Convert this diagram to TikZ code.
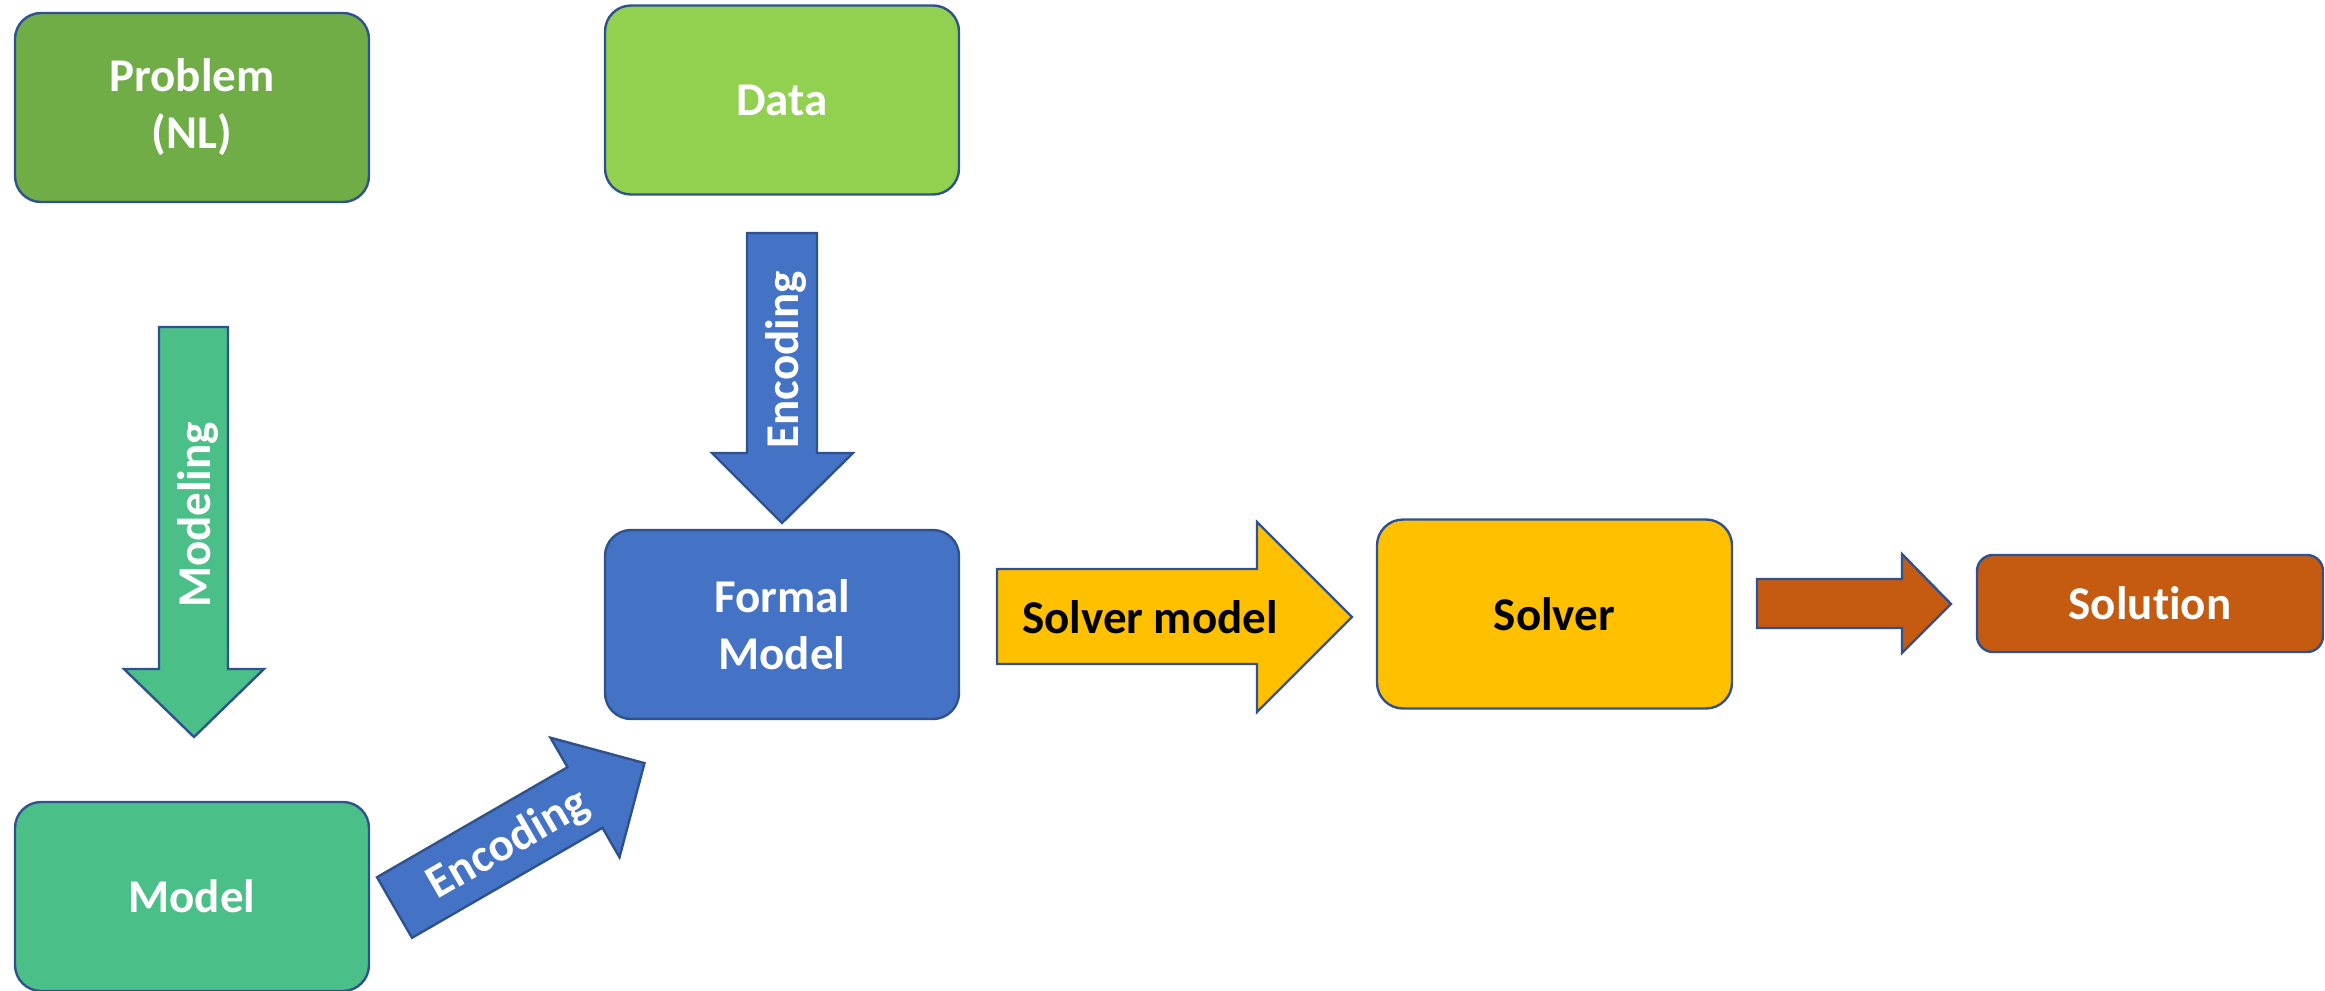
\documentclass[tikz,border=0pt]{standalone}
\usepackage{fontspec}
\setmainfont{Carlito}[Ligatures={NoCommon,NoContextual}]
\definecolor{bordc}{HTML}{2F528F}
\definecolor{cProb}{HTML}{70AD47}
\definecolor{cData}{HTML}{92D050}
\definecolor{cBlue}{HTML}{4472C4}
\definecolor{cModel}{RGB}{74,191,136}
\definecolor{cSolver}{HTML}{FFC000}
\definecolor{cSol}{HTML}{C55A11}
\newcommand{\dgfont}{\fontsize{23.5}{28.5}\selectfont\bfseries}
\begin{document}
\begin{tikzpicture}[x=0.5pt,y=-0.5pt,
  outl/.style={draw=bordc, line width=1.2pt, line join=miter},
  box/.style={outl, rounded corners=13pt, inner sep=0pt, align=center,
    font=\dgfont, text=white, minimum width=177pt, minimum height=94.5pt},
  lbltext/.style={font=\dgfont, text=white, inner sep=0pt, anchor=base}]
\useasboundingbox (0,0) rectangle (2325,991);

% boxes
\node[box, fill=cProb] (prob) at (192,107.5) {Problem\\(NL)};
\node[box, fill=cData] (data) at (782,100) {Data};
\node[box, fill=cBlue] (formal) at (782,624.5) {Formal\\Model};
\node[box, fill=cModel] (model) at (192,896.5) {Model};
\node[box, fill=cSolver, text=black, minimum width=177.5pt] (solver) at (1554.5,614) {Solver};
\node[box, fill=cSol, rounded corners=8pt, minimum width=173pt, minimum height=48.5pt] (solution) at (2150,603.5) {Solution};

% Modeling arrow (Problem -> Model)
\draw[outl, fill=cModel] (159,327) -- (228,327) -- (228,669) -- (264,669) -- (194,737) -- (124,669) -- (159,669) -- cycle;
\node[lbltext, rotate=90] (modlbl) at (210,515) {Modeling};

% Encoding arrow (Data -> Formal Model)
\draw[outl, fill=cBlue] (747,233) -- (817,233) -- (817,453) -- (853,453) -- (782,523) -- (712,453) -- (747,453) -- cycle;
\node[lbltext, rotate=90] (enc1) at (798,360) {Encoding};

% Encoding arrow (Model -> Formal Model)
\draw[outl, fill=cBlue] (412,937.8) -- (602.5,827.8) -- (619.5,857.3) -- (644.5,763.1) -- (550.5,737.7) -- (567.5,767.2) -- (377,877.2) -- cycle;
\node[lbltext, rotate=30] (enc2) at (514.6,855.5) {Encoding};

% Solver model arrow (Formal Model -> Solver)
\draw[outl, fill=cSolver] (997,569) -- (1257,569) -- (1257,522) -- (1352,617) -- (1257,712) -- (1257,664) -- (997,664) -- cycle;
\node[lbltext, text=black] (smlbl) at (1150,633) {Solver model};

% Solver -> Solution arrow
\draw[outl, fill=cSol] (1757,579) -- (1902,579) -- (1902,554) -- (1951,604) -- (1902,653) -- (1902,628) -- (1757,628) -- cycle;
\end{tikzpicture}
\end{document}
